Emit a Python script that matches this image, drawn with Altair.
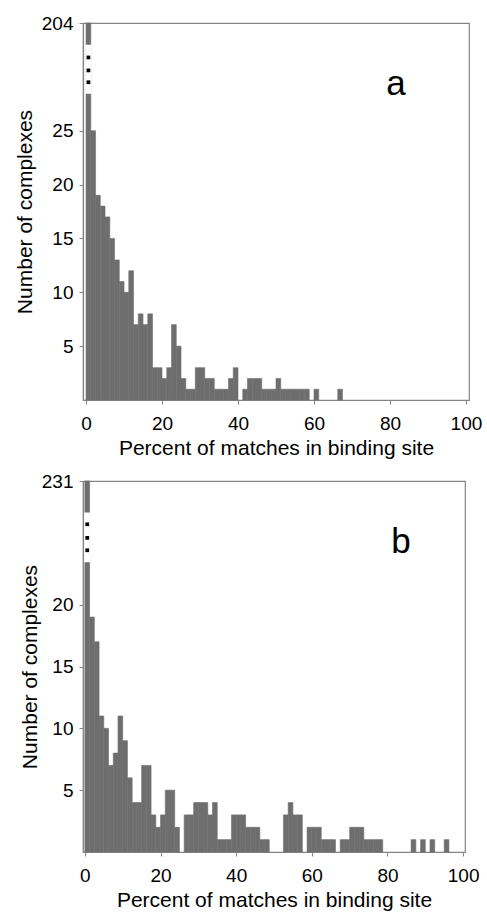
import altair as alt
import pandas as pd

# ---------------- data ----------------
BIN_WIDTH = 1.25  # percent per histogram bin

# panel a: number of complexes per bin (first bin is off-scale: 204)
counts_a = [204, 25, 19, 18, 17, 15, 13, 11, 10, 12,
            7, 8, 7, 8, 3, 3, 2, 3, 7, 5,
            2, 1, 1, 3, 3, 2, 2, 1, 1, 1,
            2, 3, 0, 1, 2, 2, 2, 1, 1, 1,
            2, 1, 1, 1, 1, 1, 1, 0, 1, 0,
            0, 0, 0, 1, 0, 0, 0, 0, 0, 0,
            0, 0, 0, 0, 0, 0, 0, 0, 0, 0,
            0, 0, 0, 0, 0, 0, 0, 0, 0, 0]

# panel b: number of complexes per bin (first bin is off-scale: 231)
counts_b = [231, 19, 17, 11, 10, 7, 8, 11, 9, 6,
            4, 4, 7, 7, 3, 2, 3, 5, 5, 2,
            0, 3, 3, 4, 4, 4, 3, 4, 1, 1,
            1, 3, 3, 3, 2, 2, 2, 1, 1, 0,
            0, 0, 3, 4, 3, 3, 0, 2, 2, 2,
            1, 1, 1, 0, 1, 1, 2, 2, 2, 1,
            1, 1, 1, 0, 0, 0, 0, 0, 0, 1,
            0, 1, 0, 1, 0, 0, 1, 0, 0, 0]

x_ticks = [0, 20, 40, 60, 80, 100]
y_ticks_a = [5, 10, 15, 20, 25]
y_ticks_b = [5, 10, 15, 20]
top_label_a = "204"
top_label_b = "231"
X_TITLE = "Percent of matches in binding site"
Y_TITLE = "Number of complexes"

# ---------------- style ----------------
FONT = "Liberation Sans"
BAR = "#6e6e6e"
FRAME = "#858585"


def panel(counts, top_label, axis_max, y_ticks, gap, dots, letter, letter_xy,
          title_pad, x_domain, w, h):
    n = len(counts)
    df = pd.DataFrame({
        "start": [i * BIN_WIDTH for i in range(n)],
        "end": [(i + 1) * BIN_WIDTH for i in range(n)],
        "count": counts,
    })
    xsc = alt.Scale(domain=x_domain, nice=False, zero=False)
    ysc = alt.Scale(domain=[0, axis_max], nice=False, zero=True, clamp=True)
    x_enc = alt.X("start:Q", scale=xsc,
                  axis=alt.Axis(values=x_ticks, title=X_TITLE))
    y_enc = alt.Y("count:Q", scale=ysc,
                  axis=alt.Axis(values=y_ticks + [axis_max],
                                labelExpr=f"datum.value == {axis_max} ? '{top_label}' : datum.label",
                                title=Y_TITLE, titlePadding=title_pad))

    bars = alt.Chart(df).transform_filter("datum.count > 0").mark_rect(
        color=BAR, stroke=BAR, strokeWidth=0.6).encode(
        x=x_enc, x2="end:Q", y=y_enc, y2=alt.datum(0))

    brk = alt.Chart(df).transform_filter("datum.start == 0").mark_rect(
        color="white", stroke="white", strokeWidth=1.5).encode(
        x=x_enc, x2="end:Q", y=alt.datum(gap[0]), y2=alt.datum(gap[1]))

    dots_df = pd.DataFrame({"start": [BIN_WIDTH / 2] * len(dots), "count": dots})
    dot_marks = alt.Chart(dots_df).mark_square(
        color="black", size=14, opacity=1).encode(x=x_enc, y=y_enc)

    letter_mark = alt.Chart(pd.DataFrame({"lab": [letter]})).mark_text(
        font=FONT, fontSize=35, align="center", baseline="alphabetic",
        color="black").encode(text="lab:N", x=alt.value(letter_xy[0]),
                              y=alt.value(letter_xy[1]))

    return alt.layer(bars, brk, dot_marks, letter_mark).properties(width=w, height=h)


pa = panel(counts_a, top_label_a, 35, y_ticks_a, (28.5, 32.9),
           [31.8, 30.6, 29.5], "a", (313, 72), 6, [-0.8, 100.8], 386, 377)
pb = panel(counts_b, top_label_b, 30, y_ticks_b, (23.5, 27.4),
           [26.5, 25.4, 24.4], "b", (318, 72), 1, [-0.5, 100.5], 382, 371)

chart = alt.vconcat(pa, pb, spacing=12).properties(
    padding={"left": 13, "top": 13, "right": 2, "bottom": 2},
    background="white",
).configure_view(
    stroke=FRAME, strokeWidth=1.2
).configure_axis(
    grid=False, domainColor=FRAME, domainWidth=1.2, tickColor=FRAME,
    tickSize=4, labelFont=FONT, labelFontSize=19, labelColor="black",
    titleFont=FONT, titleFontSize=21, titleFontWeight="normal",
    titleColor="black",
).configure_axisX(
    labelPadding=10, titlePadding=4
).configure_axisY(
    labelPadding=6
)

chart.save("out.html", embed_options={"renderer": "svg", "actions": False})
